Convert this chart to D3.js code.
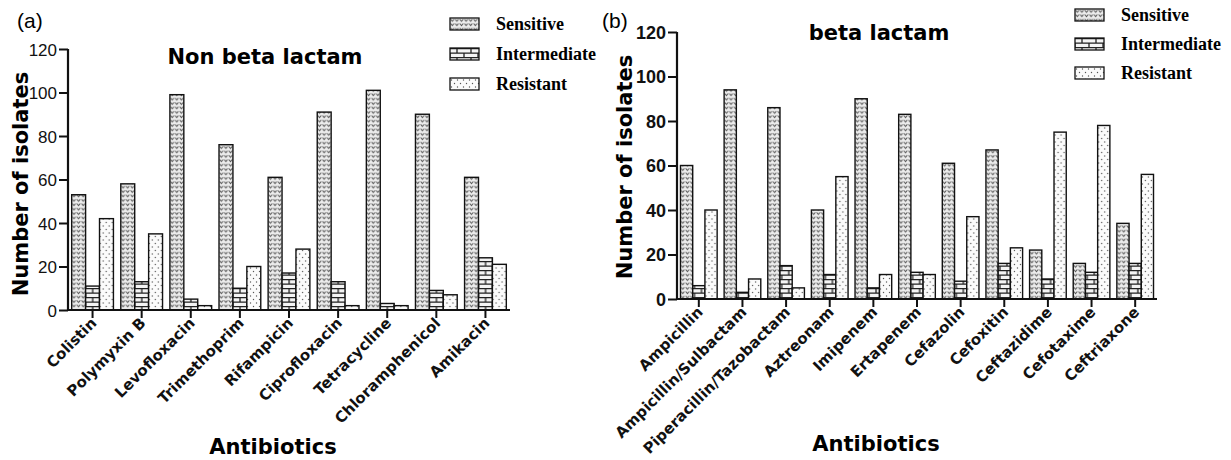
<!DOCTYPE html>
<html>
<head>
<meta charset="utf-8">
<script src="https://cdn.jsdelivr.net/npm/d3@7"></script>
<style>
  body { margin: 0; background: #fff; }
  svg { display: block; }
</style>
</head>
<body>
<div id="chart"></div>
<script>
// Series names (shared by both panels)
const seriesNames = ['Sensitive', 'Intermediate', 'Resistant'];

// Panel (a) non beta lactam
const nonBetaDrugs = ['Colistin', 'Polymyxin B', 'Levofloxacin', 'Trimethoprim', 'Rifampicin',
    'Ciprofloxacin', 'Tetracycline', 'Chloramphenicol', 'Amikacin'];
const nonBetaSensitive = [53, 58, 99, 76, 61, 91, 101, 90, 61];
const nonBetaIntermediate = [11, 13, 5, 10, 17, 13, 3, 9, 24];
const nonBetaResistant = [42, 35, 2, 20, 28, 2, 2, 7, 21];

// Panel (b) beta lactam
const betaDrugs = ['Ampicillin', 'Ampicillin/Sulbactam', 'Piperacillin/Tazobactam', 'Aztreonam',
    'Imipenem', 'Ertapenem', 'Cefazolin', 'Cefoxitin', 'Ceftazidime', 'Cefotaxime', 'Ceftriaxone'];
const betaSensitive = [60, 94, 86, 40, 90, 83, 61, 67, 22, 16, 34];
const betaIntermediate = [6, 3, 15, 11, 5, 12, 8, 16, 9, 12, 16];
const betaResistant = [40, 9, 5, 55, 11, 11, 37, 23, 75, 78, 56];

const yTicks = [0, 20, 40, 60, 80, 100, 120];

const width = 1231;
const height = 460;

const svg = d3.select('#chart')
    .append('svg')
    .attr('width', width)
    .attr('height', height);

// Fill patterns
const defs = svg.append('defs');

const pSens = defs.append('pattern')
    .attr('id', 'pat-sens')
    .attr('patternUnits', 'userSpaceOnUse')
    .attr('width', 4.6).attr('height', 4.4);
pSens.append('rect').attr('width', 4.6).attr('height', 4.4).attr('fill', '#ececec');
pSens.append('path')
    .attr('d', 'M0.6,1.2 L2.3,3.2 L4.0,1.2')
    .attr('fill', 'none').attr('stroke', '#555').attr('stroke-width', 0.9);

const pInt = defs.append('pattern')
    .attr('id', 'pat-int')
    .attr('patternUnits', 'userSpaceOnUse')
    .attr('width', 14).attr('height', 9);
pInt.append('rect').attr('width', 14).attr('height', 9).attr('fill', '#f4f4f4');
pInt.append('path')
    .attr('d', 'M0,0.6 H14 M0,5.1 H14 M7,0.6 V5.1 M0,5.1 V9 M14,5.1 V9')
    .attr('fill', 'none').attr('stroke', '#222').attr('stroke-width', 1.3);

const pRes = defs.append('pattern')
    .attr('id', 'pat-res')
    .attr('patternUnits', 'userSpaceOnUse')
    .attr('width', 6).attr('height', 7);
pRes.append('rect').attr('width', 6).attr('height', 7).attr('fill', '#fbfbfb');
pRes.append('circle').attr('cx', 1.5).attr('cy', 2).attr('r', 0.7).attr('fill', '#555');
pRes.append('circle').attr('cx', 4.5).attr('cy', 5.5).attr('r', 0.7).attr('fill', '#555');

const fills = { Sensitive: 'url(#pat-sens)', Intermediate: 'url(#pat-int)', Resistant: 'url(#pat-res)' };

// Build one grouped bar panel
function drawPanel(opts) {
    const rows = opts.drugs.map((d, i) => ({
        drug: d,
        Sensitive: opts.sens[i],
        Intermediate: opts.inter[i],
        Resistant: opts.res[i]
    }));

    const x = d3.scaleBand()
        .domain(opts.drugs)
        .range([opts.x0, opts.x1])
        .paddingInner(opts.pad)
        .paddingOuter(opts.pad / 2);

    const xSub = d3.scaleBand()
        .domain(seriesNames)
        .range([0, x.bandwidth()]);

    const y = d3.scaleLinear()
        .domain([0, 120])
        .range([opts.y0, opts.y1]);

    const g = svg.append('g');

    // Bars
    g.selectAll('.grp')
        .data(rows)
        .enter()
        .append('g')
        .attr('transform', d => `translate(${x(d.drug)},0)`)
        .selectAll('rect')
        .data(d => seriesNames.map(s => ({ key: s, value: d[s] })))
        .enter()
        .append('rect')
        .attr('x', d => xSub(d.key))
        .attr('y', d => y(d.value))
        .attr('width', xSub.bandwidth())
        .attr('height', d => y(0) - y(d.value))
        .attr('fill', d => fills[d.key])
        .attr('stroke', '#111')
        .attr('stroke-width', 1.4);

    // Y axis
    const yAxis = g.append('g')
        .attr('transform', `translate(${opts.x0},0)`)
        .call(d3.axisLeft(y).tickValues(yTicks).tickSize(9).tickPadding(2).tickSizeOuter(0));
    yAxis.select('.domain').attr('stroke', '#111').attr('stroke-width', 2.2)
        .attr('d', `M0,${opts.y0}V${opts.y1}`);
    yAxis.selectAll('.tick line').attr('stroke', '#111').attr('stroke-width', 2);
    yAxis.selectAll('.tick text')
        .attr('fill', '#111')
        .style('font-family', '"Liberation Sans", Arial, sans-serif')
        .style('font-size', opts.tickSize + 'px')
        .style('font-weight', opts.tickWeight)
        .attr('dy', '0.36em');

    // X axis
    const xAxis = g.append('g')
        .attr('transform', `translate(0,${opts.y0})`)
        .call(d3.axisBottom(x).tickSize(8).tickSizeOuter(0));
    xAxis.select('.domain').attr('stroke', '#111').attr('stroke-width', 2.2)
        .attr('d', `M${opts.x0},0H${opts.x1}`);
    xAxis.selectAll('.tick line').attr('stroke', '#111').attr('stroke-width', 2);
    xAxis.selectAll('.tick text')
        .attr('fill', '#111')
        .style('font-family', '"DejaVu Sans", sans-serif')
        .style('font-size', '15px')
        .style('font-weight', 'bold')
        .attr('text-anchor', 'end')
        .attr('x', 0)
        .attr('y', 0)
        .attr('dy', 0)
        .attr('transform', 'translate(5,14) rotate(-45)');

    // Title
    svg.append('text')
        .attr('x', opts.titleX)
        .attr('y', opts.titleY)
        .attr('text-anchor', 'middle')
        .style('font-family', '"DejaVu Sans", sans-serif')
        .style('font-size', '21px')
        .style('font-weight', 'bold')
        .text(opts.title);

    // Y axis label
    svg.append('text')
        .attr('transform', `translate(${opts.yLabelX},${opts.yLabelY}) rotate(-90)`)
        .attr('text-anchor', 'middle')
        .style('font-family', '"DejaVu Sans", sans-serif')
        .style('font-size', '21px')
        .style('font-weight', 'bold')
        .text('Number of isolates');

    // X axis label
    svg.append('text')
        .attr('x', opts.xLabelX)
        .attr('y', opts.xLabelY)
        .attr('text-anchor', 'middle')
        .style('font-family', '"DejaVu Sans", sans-serif')
        .style('font-size', '21px')
        .style('font-weight', 'bold')
        .text('Antibiotics');

    // Panel letter
    svg.append('text')
        .attr('x', opts.letterX)
        .attr('y', 28)
        .style('font-family', '"Liberation Sans", Arial, sans-serif')
        .style('font-size', '21px')
        .text(opts.letter);

    // Legend
    const legend = svg.append('g')
        .attr('transform', `translate(${opts.legX},${opts.legY})`);
    seriesNames.forEach((s, i) => {
        const row = legend.append('g').attr('transform', `translate(0,${i * opts.legStep})`);
        row.append('rect')
            .attr('x', 0).attr('y', 0)
            .attr('width', 29).attr('height', 12)
            .attr('fill', fills[s])
            .attr('stroke', '#111')
            .attr('stroke-width', 1.3);
        row.append('text')
            .attr('x', 46)
            .attr('y', 12)
            .style('font-family', '"Liberation Serif", "Times New Roman", serif')
            .style('font-size', '18px')
            .style('font-weight', 'bold')
            .text(s);
    });
}

drawPanel({
    drugs: nonBetaDrugs, sens: nonBetaSensitive, inter: nonBetaIntermediate, res: nonBetaResistant,
    x0: 68, x1: 510, y0: 310, y1: 49, pad: 0.15,
    tickSize: 17, tickWeight: 'normal',
    title: 'Non beta lactam', titleX: 265, titleY: 64,
    yLabelX: 28, yLabelY: 184,
    xLabelX: 273, xLabelY: 454,
    letter: '(a)', letterX: 17,
    legX: 450, legY: 18, legStep: 30
});

drawPanel({
    drugs: betaDrugs, sens: betaSensitive, inter: betaIntermediate, res: betaResistant,
    x0: 677, x1: 1157, y0: 299, y1: 32, pad: 0.16,
    tickSize: 18, tickWeight: 'bold',
    title: 'beta lactam', titleX: 879, titleY: 40,
    yLabelX: 632, yLabelY: 167,
    xLabelX: 876, xLabelY: 451,
    letter: '(b)', letterX: 602,
    legX: 1075, legY: 9, legStep: 29
});
</script>
</body>
</html>
